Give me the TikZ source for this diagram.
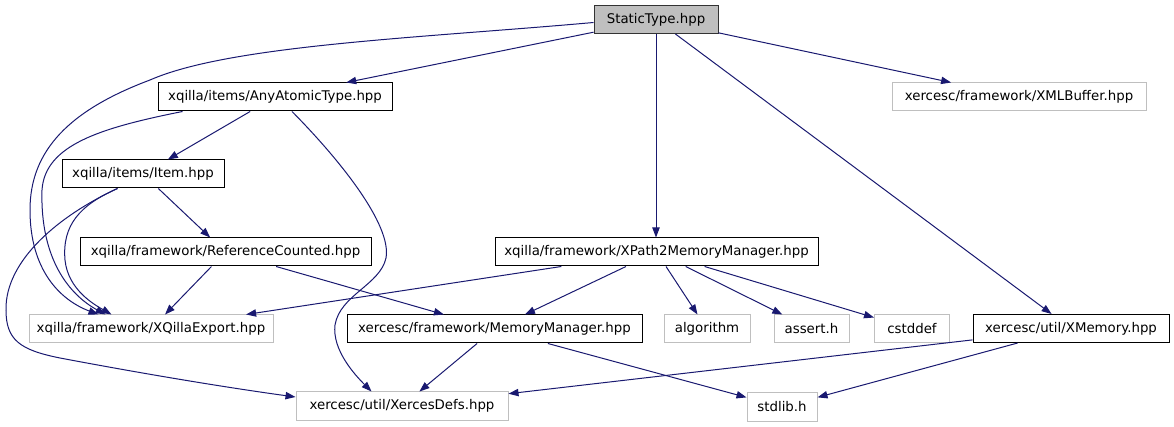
\documentclass[tikz,border=0pt]{standalone}
\usepackage{fontspec}
\setmainfont{DejaVu Sans}
\usepackage{tikz}
\usetikzlibrary{arrows.meta,calc}
\definecolor{eBlue}{HTML}{191970}
\definecolor{eGray}{HTML}{BFBFBF}
\tikzset{
  file/.style={draw=black, fill=white, line width=0.75pt, minimum height=21pt, inner sep=0pt, font=\fontsize{10}{12}\selectfont},
  sysfile/.style={file, draw=eGray},
  rootfile/.style={file, fill=eGray, draw=black!80},
  dep/.style={draw=eBlue, line width=0.75pt, -{Triangle[length=7.5pt,width=5.5pt]}}
}

\begin{document}
\begin{tikzpicture}[x=0.75pt,y=-0.75pt]
  \useasboundingbox (0,0) rectangle (1174,427);
  % files
  \node[rootfile, minimum width=93pt] (st) at (656,19.5) {StaticType.hpp};
  \node[file, minimum width=175.5pt] (aat) at (275,97) {xqilla/items/AnyAtomicType.hpp};
  \node[sysfile, minimum width=190.5pt] (xmlb) at (1019,97) {xercesc/framework/XMLBuffer.hpp};
  \node[file, minimum width=121.5pt] (item) at (143,174) {xqilla/items/Item.hpp};
  \node[file, minimum width=218.25pt] (rc) at (225.5,252) {xqilla/framework/ReferenceCounted.hpp};
  \node[file, minimum width=242.25pt] (xp2) at (656.5,252) {xqilla/framework/XPath2MemoryManager.hpp};
  \node[sysfile, minimum width=183pt] (xqe) at (151,329) {xqilla/framework/XQillaExport.hpp};
  \node[file, minimum width=221.25pt] (mm) at (494.5,329) {xercesc/framework/MemoryManager.hpp};
  \node[sysfile, minimum width=64.5pt] (alg) at (707,329) {algorithm};
  \node[sysfile, minimum width=56.25pt] (asrt) at (811.5,329) {assert.h};
  \node[sysfile, minimum width=56.25pt] (cstd) at (912,329) {cstddef};
  \node[file, minimum width=147pt] (xmem) at (1071,328.5) {xercesc/util/XMemory.hpp};
  \node[sysfile, minimum width=159pt] (xd) at (402,406) {xercesc/util/XercesDefs.hpp};
  \node[sysfile, minimum width=52.5pt] (stdlib) at (782,407) {stdlib.h};

  % straight includes
  \foreach \a/\b in {st/aat,st/xmlb,st/xmem,aat/item,item/rc,rc/xqe,rc/mm,xp2/xqe,xp2/mm,xp2/alg,xp2/asrt,xp2/cstd,mm/xd,mm/stdlib,xmem/xd,xmem/stdlib}
    {\draw[dep] (\a) -- (\b);}
  \draw[dep] (st.south) -- (st.south |- xp2.north);

  % bent includes
  \draw[dep] ($(st.west)+(0,3)$) .. controls (420,38) and (230,45) .. (150,80)
    .. controls (70,110) and (30,150) .. (30,210)
    .. controls (30,270) and (60,300) .. ($(xqe.north west)+(70,0)$);
  \draw[dep] ($(aat.south west)+(25,0)$) .. controls (100,128) and (45,145) .. (42,190)
    .. controls (40,260) and (70,295) .. ($(xqe.north west)+(77,0)$);
  \draw[dep] ($(item.south west)+(56,0)$) .. controls (80,205) and (62,225) .. (65,260)
    .. controls (68,290) and (95,305) .. ($(xqe.north west)+(83,0)$);
  \draw[dep] ($(item.south west)+(56,0)$) .. controls (60,215) and (5,260) .. (6,310)
    .. controls (6,340) and (20,350) .. (60,358)
    .. controls (150,375) and (230,388) .. ($(xd.west)+(0,-9)$);
  \draw[dep] ($(aat.south)+(17,0)$) .. controls (340,160) and (392,225) .. (386,258)
    .. controls (380,285) and (340,295) .. (335,325)
    .. controls (332,350) and (355,375) .. ($(xd.north west)+(76,0)$);
\end{tikzpicture}
\end{document}
